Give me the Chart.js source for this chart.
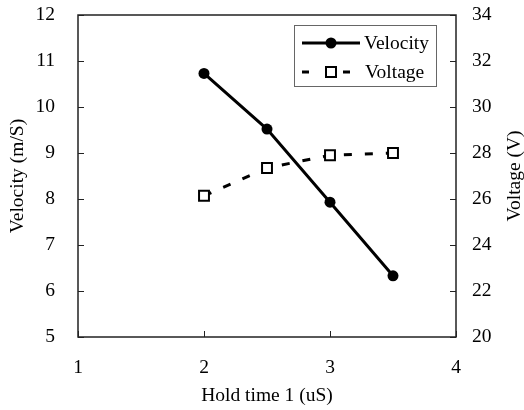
<!DOCTYPE html>
<html>
<head>
<meta charset="utf-8">
<script src="https://cdn.jsdelivr.net/npm/chart.js@4.4.0/dist/chart.umd.min.js"></script>
<style>
  html, body { margin: 0; padding: 0; background: #fff; }
  #wrap { width: 524px; height: 410px; }
</style>
</head>
<body>
<div id="wrap"><canvas id="holdChart" width="524" height="410"></canvas></div>
<script>
// data
var holdTime = [2, 2.5, 3, 3.5];
var velocity = [10.73, 9.52, 7.93, 6.33];
var voltage = [26.14, 27.35, 27.9, 28.0];
var xTicks = [1, 2, 3, 4];
var velocityTicks = [5, 6, 7, 8, 9, 10, 11, 12];
var voltageTicks = [20, 22, 24, 26, 28, 30, 32, 34];

var FONT = 'Liberation Serif, Times New Roman, serif';
var FSIZE = 19.5;

function pts(xs, ys) {
    return xs.map(function (x, i) { return { x: x, y: ys[i] }; });
}

// no extra room for overhanging tick labels, plot box is set by hand
function noPad(s) {
    s.paddingTop = 0; s.paddingBottom = 0; s.paddingLeft = 0; s.paddingRight = 0;
}

// box, inner ticks, right title, legend
var decorations = {
    id: 'decorations',
    afterDraw: function (chart) {
        var ctx = chart.ctx;
        var a = chart.chartArea;
        var sx = chart.scales.x, sy = chart.scales.y, sy1 = chart.scales.y1;
        ctx.save();
        ctx.strokeStyle = '#222';
        ctx.lineWidth = 1.5;
        ctx.strokeRect(a.left, a.top, a.right - a.left, a.bottom - a.top);

        ctx.lineWidth = 1;
        ctx.beginPath();
        xTicks.forEach(function (v) {
            var p = Math.round(sx.getPixelForValue(v)) + 0.5;
            ctx.moveTo(p, a.bottom); ctx.lineTo(p, a.bottom - 6);
        });
        velocityTicks.forEach(function (v) {
            var p = Math.round(sy.getPixelForValue(v)) + 0.5;
            ctx.moveTo(a.left, p); ctx.lineTo(a.left + 6, p);
        });
        voltageTicks.forEach(function (v) {
            var p = Math.round(sy1.getPixelForValue(v)) + 0.5;
            ctx.moveTo(a.right, p); ctx.lineTo(a.right - 6, p);
        });
        ctx.stroke();

        // right axis title, reading bottom to top
        ctx.fillStyle = '#000';
        ctx.font = FSIZE + 'px ' + FONT;
        ctx.textAlign = 'center';
        ctx.textBaseline = 'middle';
        ctx.translate(515, (a.top + a.bottom) / 2);
        ctx.rotate(-Math.PI / 2);
        ctx.fillText('Voltage (V)', 0, 0);
        ctx.restore();

        // legend
        ctx.save();
        ctx.strokeStyle = '#666';
        ctx.lineWidth = 1;
        ctx.strokeRect(294.5, 25.5, 142, 61);
        var ds = chart.data.datasets;
        ctx.font = FSIZE + 'px ' + FONT;
        ctx.fillStyle = '#000';
        ctx.textBaseline = 'middle';
        ctx.textAlign = 'left';

        var y0 = 43;
        ctx.strokeStyle = ds[0].borderColor;
        ctx.lineWidth = ds[0].borderWidth;
        ctx.beginPath(); ctx.moveTo(302, y0); ctx.lineTo(360, y0); ctx.stroke();
        ctx.beginPath(); ctx.arc(331, y0, 5.5, 0, Math.PI * 2); ctx.fillStyle = '#000'; ctx.fill();
        ctx.fillText(ds[0].label, 364, y0 + 1);

        var y1 = 72;
        ctx.strokeStyle = ds[1].borderColor;
        ctx.lineWidth = ds[1].borderWidth;
        ctx.beginPath();
        ctx.moveTo(302, y1); ctx.lineTo(309, y1);
        ctx.moveTo(343, y1); ctx.lineTo(350, y1);
        ctx.stroke();
        ctx.lineWidth = 2;
        ctx.fillStyle = '#fff';
        ctx.fillRect(326, y1 - 5, 10, 10);
        ctx.strokeRect(326, y1 - 5, 10, 10);
        ctx.fillStyle = '#000';
        ctx.fillText(ds[1].label, 365, y1 + 1);
        ctx.restore();
    }
};

document.addEventListener('DOMContentLoaded', function () {
    var ctx = document.getElementById('holdChart').getContext('2d');

    var holdChart = new Chart(ctx, {
        type: 'scatter',
        data: {
            datasets: [{
                label: 'Velocity',
                data: pts(holdTime, velocity),
                yAxisID: 'y',
                showLine: true,
                borderColor: '#000',
                backgroundColor: '#000',
                borderWidth: 3,
                pointStyle: 'circle',
                pointRadius: 5.5,
                pointBorderWidth: 0,
                pointBackgroundColor: '#000',
                order: 1
            }, {
                label: 'Voltage',
                data: pts(holdTime, voltage),
                yAxisID: 'y1',
                showLine: true,
                borderColor: '#000',
                backgroundColor: '#fff',
                borderWidth: 3,
                borderDash: [8, 13],
                pointStyle: 'rect',
                pointRadius: 7,
                pointBorderWidth: 2,
                pointBorderColor: '#000',
                pointBackgroundColor: '#fff',
                order: 2
            }]
        },
        options: {
            responsive: false,
            animation: false,
            layout: { padding: { top: 15, right: 0, bottom: 0, left: 0 } },
            plugins: {
                legend: { display: false },
                tooltip: { enabled: false }
            },
            scales: {
                x: {
                    type: 'linear',
                    min: 1,
                    max: 4,
                    afterBuildTicks: function (s) { s.ticks = xTicks.map(function (v) { return { value: v }; }); },
                    afterFit: function (s) { s.height = 73; noPad(s); },
                    grid: { display: false, drawTicks: false },
                    border: { display: false },
                    ticks: { color: '#000', padding: 19, font: { family: FONT, size: FSIZE } },
                    title: {
                        display: true,
                        text: 'Hold time 1 (uS)',
                        color: '#000',
                        font: { family: FONT, size: FSIZE },
                        padding: { top: 0, bottom: 2 }
                    }
                },
                y: {
                    position: 'left',
                    min: 5,
                    max: 12,
                    afterBuildTicks: function (s) { s.ticks = velocityTicks.map(function (v) { return { value: v }; }); },
                    afterFit: function (s) { s.width = 78; noPad(s); },
                    grid: { display: false, drawTicks: false },
                    border: { display: false },
                    ticks: { color: '#000', padding: 23, font: { family: FONT, size: FSIZE } },
                    title: {
                        display: true,
                        text: 'Velocity (m/S)',
                        color: '#000',
                        font: { family: FONT, size: FSIZE },
                        padding: { top: 6, bottom: 0 }
                    }
                },
                y1: {
                    position: 'right',
                    min: 20,
                    max: 34,
                    afterBuildTicks: function (s) { s.ticks = voltageTicks.map(function (v) { return { value: v }; }); },
                    afterFit: function (s) { s.width = 68; noPad(s); },
                    grid: { display: false, drawTicks: false },
                    border: { display: false },
                    ticks: { color: '#000', padding: 16, font: { family: FONT, size: FSIZE } }
                }
            }
        },
        plugins: [decorations]
    });
});
</script>
</body>
</html>
